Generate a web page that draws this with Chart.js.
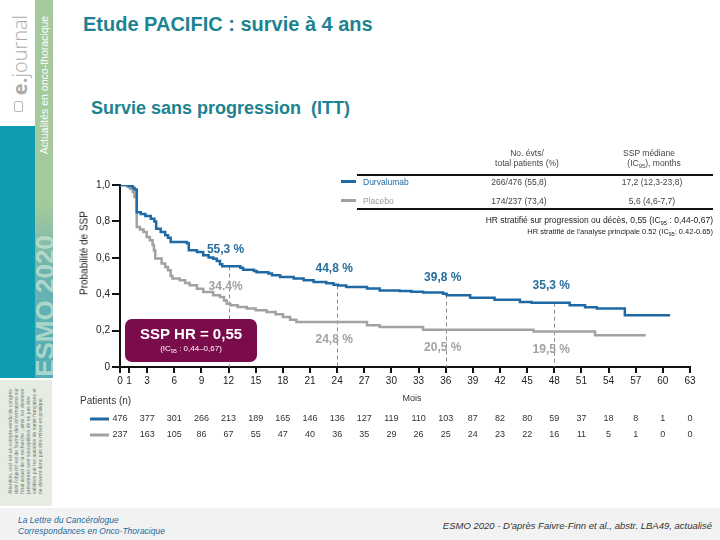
<!DOCTYPE html>
<html lang="fr">
<head>
<meta charset="utf-8">
<title>Etude PACIFIC : survie à 4 ans</title>
<script src="https://cdn.jsdelivr.net/npm/chart.js@4"></script>
<style>
  html, body { margin: 0; padding: 0; }
  body { width: 720px; height: 540px; position: relative; overflow: hidden; background: #fff;
         font-family: "Liberation Sans", Arial, sans-serif; }
  #chart { position: absolute; left: 0; top: 0; }
  .abs { position: absolute; white-space: nowrap; }
  .c { transform: translate(-50%, -50%); }
  .l { transform: translate(0, -50%); }
  .r { transform: translate(-100%, -50%); }
  .rot { transform: translate(-50%, -50%) rotate(-90deg); }
  .tbl { font-size: 8.5px; color: #444; }
  sub { font-size: 70%; vertical-align: -2px; line-height: 0; }
</style>
</head>
<body>
<!-- ── Bandeau latéral ── -->
<div class="abs" style="left:0;top:126px;width:35px;height:252px;background:#0e9cb1"></div>
<div class="abs" style="left:35px;top:0;width:18px;height:378px;background:linear-gradient(#a4c99d 0px, #a4c99d 205px, #6bb3b0 275px, #55acb5 378px)"></div>
<div class="abs rot" style="left:19px;top:55px;font-size:20px;color:#ababab;font-family:'Open Sans','Liberation Sans',sans-serif"><b>e.</b><span style="font-weight:300">journal</span></div>
<div class="abs" style="left:14px;top:101px;width:9px;height:11px;border:1px solid #b5b5b5;border-radius:2px;box-sizing:border-box"></div>
<div class="abs rot" style="left:44px;top:85px;font-size:10.5px;color:#fff">Actualités en onco-thoracique</div>
<div class="abs" style="left:35px;top:220px;width:18px;height:158px;overflow:hidden">
  <div class="abs" style="left:10px;top:86px;transform:translate(-50%,-50%) rotate(-90deg);font-size:26px;font-weight:bold;color:rgba(205,232,214,0.7)">ESMO 2020</div>
</div>
<div class="abs" style="left:0;top:380px;width:52px;height:126px;background:#e5ece2"></div>
<div class="abs rot" style="left:25px;top:440px;font-size:5px;line-height:6px;color:#777;white-space:normal;width:108px">
Attention, ceci est un compte-rendu de congrès dont l'objectif est de fournir des informations sur l'état actuel de la recherche ; ainsi, les données présentées sont susceptibles de ne pas être validées par les autorités de santé françaises et ne doivent donc pas être mises en pratique.
</div>

<!-- ── Titres ── -->
<div class="abs l" style="left:83px;top:24px;font-size:20px;font-weight:bold;color:#1c8391">Etude PACIFIC : survie à 4 ans</div>
<div class="abs l" style="left:91px;top:108px;font-size:18px;font-weight:bold;color:#1c8391">Survie sans progression&nbsp; (ITT)</div>

<canvas id="chart" width="720" height="540"></canvas>

<!-- ── Tableau légende ── -->
<div class="abs c tbl" style="left:527px;top:153px">No. évts/</div>
<div class="abs c tbl" style="left:527px;top:163px">total patients (%)</div>
<div class="abs c tbl" style="left:649px;top:153px">SSP médiane</div>
<div class="abs c tbl" style="left:654px;top:163px">(IC<sub>95</sub>), months</div>
<div class="abs" style="left:357px;top:174px;width:356px;height:2px;background:#111"></div>
<div class="abs" style="left:341px;top:180px;width:15px;height:3px;background:#1f6aa5"></div>
<div class="abs l tbl" style="left:363px;top:182px;color:#1f6aa5">Durvalumab</div>
<div class="abs c tbl" style="left:519px;top:182px">266/476 (55,8)</div>
<div class="abs c tbl" style="left:652px;top:182px">17,2 (12,3-23,8)</div>
<div class="abs" style="left:341px;top:199px;width:15px;height:3px;background:#a0a0a0"></div>
<div class="abs l tbl" style="left:363px;top:201px;color:#999">Placebo</div>
<div class="abs c tbl" style="left:519px;top:201px">174/237 (73,4)</div>
<div class="abs c tbl" style="left:652px;top:201px">5,6 (4,6-7,7)</div>
<div class="abs" style="left:357px;top:208px;width:356px;height:2px;background:#111"></div>
<div class="abs r tbl" style="left:713px;top:220px;color:#222">HR stratifié sur progression ou décès, 0,55 (IC<sub>95</sub> : 0,44-0,67)</div>
<div class="abs r tbl" style="left:713px;top:231px;font-size:7.5px;color:#222">HR stratifié de l'analyse principale 0.52 (IC<sub>95</sub>: 0.42-0.65)</div>

<!-- ── Axes ── -->
<div class="abs rot" style="left:84px;top:253px;font-size:10px;color:#222">Probabilité de SSP</div>
<div class="abs c" style="left:412px;top:398px;font-size:9px;color:#333">Mois</div>
<div class="abs l" style="left:80px;top:400px;font-size:10px;color:#333">Patients (n)</div>

<!-- ── Pied de page ── -->
<div class="abs" style="left:0;top:508px;width:720px;height:32px;background:#f2f2f2"></div>
<div class="abs l" style="left:18px;top:520px;font-size:8.5px;font-style:italic;color:#1c6aa0">La Lettre du Cancérologue</div>
<div class="abs l" style="left:18px;top:531px;font-size:8.5px;font-style:italic;color:#1c6aa0">Correspondances en Onco-Thoracique</div>
<div class="abs r" style="left:712px;top:525px;font-size:9.5px;font-style:italic;color:#333">ESMO 2020 - D'après Faivre-Finn et al., abstr. LBA49, actualisé</div>

<script>
// ── Données ──
const xTicks = [0, 1, 3, 6, 9, 12, 15, 18, 21, 24, 27, 30, 33, 36, 39, 42, 45, 48, 51, 54, 57, 60, 63];
const yTicks = [0, 0.2, 0.4, 0.6, 0.8, 1.0];

// Courbes de Kaplan-Meier (mois, probabilité)
const durvaT = [0, 1.0, 1.4, 1.6, 1.85, 2.3, 2.8, 3.4, 3.8, 4.0, 4.5, 5.0, 5.3, 5.6, 7.4, 7.6, 8.5, 9.2, 9.8, 10.3, 10.7, 11.05, 11.3,
                13.3, 13.6, 14.8, 15.1, 16.4, 16.8, 17.7, 19.2, 20.3, 21.4, 22.8, 23.6, 24.1, 25.0, 27.3, 28.7, 30.9, 32.2,
                33.5, 35.7, 36.1, 38.7, 41.4, 44.2, 45.5, 49.7, 51.4, 52.7, 55.8, 60.8];
const durvaS = [1.0, 0.995, 0.985, 0.975, 0.85, 0.84, 0.83, 0.815, 0.80, 0.76, 0.742, 0.724, 0.71, 0.687, 0.68, 0.641, 0.632, 0.614, 0.601, 0.595, 0.583, 0.564, 0.553,
                0.545, 0.535, 0.528, 0.52, 0.514, 0.504, 0.495, 0.486, 0.477, 0.467, 0.46, 0.452, 0.448, 0.44, 0.431, 0.421, 0.418, 0.414,
                0.41, 0.403, 0.394, 0.381, 0.37, 0.357, 0.353, 0.339, 0.328, 0.321, 0.284, 0.284];

const placeboT = [0, 0.8, 1.1, 1.4, 1.6, 1.85, 2.2, 2.6, 2.95, 3.3, 3.6, 3.75, 3.9, 4.6, 5.0, 5.3, 5.6, 5.8, 6.6, 7.2, 7.7, 8.5, 9.2,
                  10.3, 11.05, 11.5, 11.8, 12.2, 13.0, 14.0, 15.0, 16.2, 17.2, 18.0, 18.8, 19.5, 27.3, 28.7, 33.5, 45.7, 52.5, 58.1];
const placeboS = [1.0, 0.99, 0.98, 0.962, 0.934, 0.769, 0.755, 0.742, 0.714, 0.696, 0.67, 0.64, 0.596, 0.568, 0.55, 0.531, 0.50, 0.486, 0.476, 0.462, 0.449, 0.43, 0.412,
                  0.394, 0.385, 0.365, 0.348, 0.339, 0.33, 0.321, 0.312, 0.302, 0.29, 0.275, 0.26, 0.247, 0.229, 0.22, 0.205, 0.195, 0.174, 0.174];

// Repères à 1, 2, 3 et 4 ans
const landmarkMonths = [12, 24, 36, 48];
const durvaLandmark = [55.3, 44.8, 39.8, 35.3];
const placeboLandmark = [34.4, 24.8, 20.5, 19.5];
const durvaLandmarkText = ['55,3 %', '44,8 %', '39,8 %', '35,3 %'];
const placeboLandmarkText = ['34.4%', '24,8 %', '20,5 %', '19,5 %'];

// Patients à risque
const riskMonths = [0, 3, 6, 9, 12, 15, 18, 21, 24, 27, 30, 33, 36, 39, 42, 45, 48, 51, 54, 57, 60, 63];
const riskDurva = [476, 377, 301, 266, 213, 189, 165, 146, 136, 127, 119, 110, 103, 87, 82, 80, 59, 37, 18, 8, 1, 0];
const riskPlacebo = [237, 163, 105, 86, 67, 55, 47, 40, 36, 35, 29, 26, 25, 24, 23, 22, 16, 11, 5, 1, 0, 0];

const BLUE = '#1f6aa5';
const GREY = '#a2a2a2';
const FONT = '"Liberation Sans", Arial, sans-serif';

// ── Annotations ──
const overlay = {
    id: 'overlay',
    beforeDatasetsDraw(chart) {
        const { ctx, chartArea, scales: { x, y } } = chart;
        ctx.save();
        ctx.strokeStyle = '#8a8a8a';
        ctx.lineWidth = 1;
        ctx.setLineDash([4, 3]);
        landmarkMonths.forEach((m, i) => {
            const px = Math.round(x.getPixelForValue(m)) + 0.5;
            ctx.beginPath();
            ctx.moveTo(px, y.getPixelForValue(durvaLandmark[i] / 100));
            ctx.lineTo(px, chartArea.bottom);
            ctx.stroke();
        });
        ctx.restore();
    },
    afterDatasetsDraw(chart) {
        const { ctx, scales: { x, y } } = chart;
        ctx.save();
        ctx.textAlign = 'center';
        ctx.textBaseline = 'middle';
        ctx.font = 'bold 12px ' + FONT;
        landmarkMonths.forEach((m, i) => {
            const px = x.getPixelForValue(m) - 3;
            ctx.fillStyle = '#276d9e';
            ctx.fillText(durvaLandmarkText[i], px, y.getPixelForValue(durvaLandmark[i] / 100) - 17);
            ctx.fillStyle = GREY;
            const off = i === 0 ? -18 : 18;
            ctx.fillText(placeboLandmarkText[i], px, y.getPixelForValue(placeboLandmark[i] / 100) + off);
        });

        // encadré HR
        ctx.fillStyle = '#7a0c4c';
        ctx.beginPath();
        ctx.roundRect(125, 319, 132, 43, 7);
        ctx.fill();
        ctx.fillStyle = '#fff';
        ctx.font = 'bold 15px ' + FONT;
        ctx.fillText('SSP HR = 0,55', 191, 335);
        const a = '(IC', b = '95', c = ' : 0,44\u20130,67)';
        ctx.font = '8px ' + FONT;
        const wa = ctx.measureText(a).width, wc = ctx.measureText(c).width;
        ctx.font = '5.5px ' + FONT;
        const wb = ctx.measureText(b).width;
        let sx = 191 - (wa + wb + wc) / 2;
        ctx.textAlign = 'left';
        ctx.font = '8px ' + FONT;
        ctx.fillText(a, sx, 349);
        ctx.font = '5.5px ' + FONT;
        ctx.fillText(b, sx + wa, 351);
        ctx.font = '8px ' + FONT;
        ctx.fillText(c, sx + wa + wb, 349);
        ctx.restore();
    },
    afterDraw(chart) {
        const { ctx, scales: { x } } = chart;
        ctx.save();
        ctx.lineWidth = 3;
        ctx.strokeStyle = BLUE;
        ctx.beginPath(); ctx.moveTo(90, 419); ctx.lineTo(109, 419); ctx.stroke();
        ctx.strokeStyle = GREY;
        ctx.beginPath(); ctx.moveTo(90, 435); ctx.lineTo(109, 435); ctx.stroke();
        ctx.fillStyle = '#333';
        ctx.font = '9px ' + FONT;
        ctx.textAlign = 'center';
        ctx.textBaseline = 'middle';
        riskMonths.forEach((m, i) => {
            const px = x.getPixelForValue(m);
            ctx.fillText(String(riskDurva[i]), px, 419);
            ctx.fillText(String(riskPlacebo[i]), px, 435);
        });
        ctx.restore();
    }
};

// ── Graphique ──
new Chart(document.getElementById('chart'), {
    type: 'line',
    data: {
        datasets: [
            {
                label: 'Durvalumab',
                data: durvaT.map((t, i) => ({ x: t, y: durvaS[i] })),
                borderColor: BLUE, borderWidth: 2.5, stepped: 'before',
                pointRadius: 0, fill: false
            },
            {
                label: 'Placebo',
                data: placeboT.map((t, i) => ({ x: t, y: placeboS[i] })),
                borderColor: GREY, borderWidth: 2.5, stepped: 'before',
                pointRadius: 0, fill: false
            }
        ]
    },
    options: {
        responsive: false,
        animation: false,
        layout: { padding: { left: 78, top: 185, right: 30, bottom: 0 } },
        plugins: { legend: { display: false }, tooltip: { enabled: false } },
        scales: {
            x: {
                type: 'linear', min: 0, max: 63,
                afterBuildTicks: s => { s.ticks = xTicks.map(v => ({ value: v })); },
                afterFit: s => { s.height = 173; },
                ticks: { autoSkip: false, maxRotation: 0, padding: 2, color: '#222', font: { size: 10, family: FONT } },
                grid: { drawOnChartArea: false, tickLength: 6, color: '#111', lineWidth: 2 },
                border: { color: '#111', width: 2 }
            },
            y: {
                min: 0, max: 1,
                afterBuildTicks: s => { s.ticks = yTicks.map(v => ({ value: v })); },
                afterFit: s => { s.width = 42; },
                ticks: {
                    padding: 2, color: '#222', font: { size: 10, family: FONT },
                    callback: v => v === 0 ? '0' : v.toFixed(1).replace('.', ',')
                },
                grid: { drawOnChartArea: false, tickLength: 8, color: '#111', lineWidth: 2 },
                border: { color: '#111', width: 2 }
            }
        }
    },
    plugins: [overlay]
});
</script>
</body>
</html>
